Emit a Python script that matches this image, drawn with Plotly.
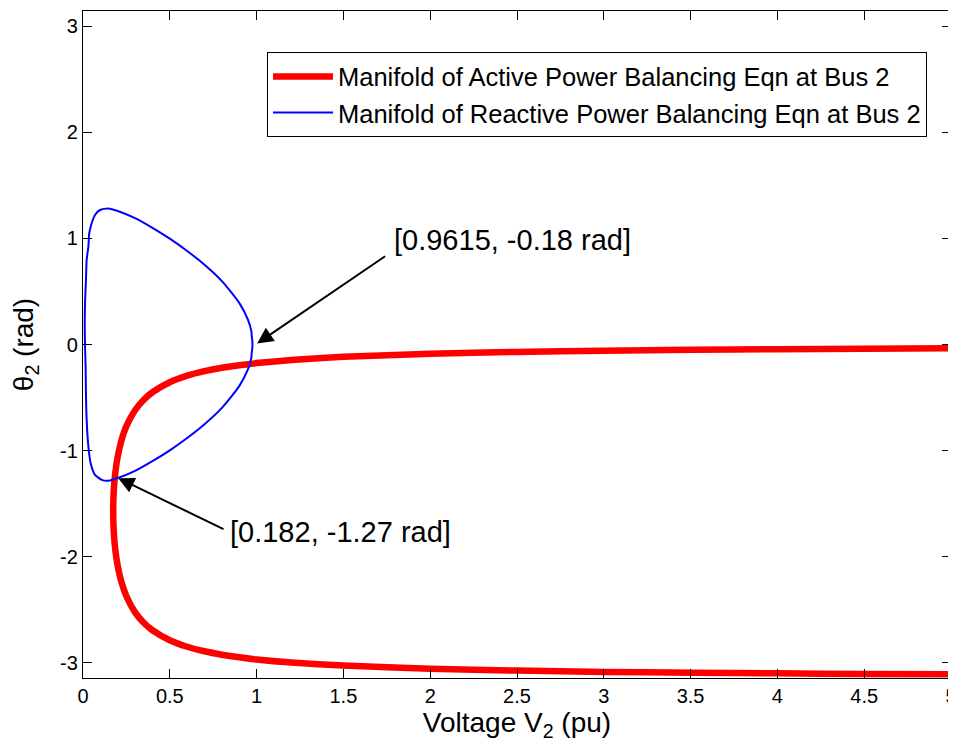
import plotly.graph_objects as go

# Active power balancing manifold (lower branch from V=5 to nose, then upper branch back to V=5)
red_v = [5, 4.5, 4, 3.5, 3, 2.5, 2, 1.5, 1.2, 1.0, 0.9, 0.8, 0.7, 0.6, 0.5, 0.4, 0.35, 0.3,
         0.25, 0.22, 0.2, 0.19, 0.182, 0.178, 0.175, 0.174, 0.175, 0.178, 0.182, 0.19, 0.2,
         0.22, 0.25, 0.3, 0.35, 0.4, 0.5, 0.6, 0.7, 0.8, 0.9, 1.0, 1.2, 1.5, 2, 2.5, 3, 3.5,
         4, 4.5, 5]
red_theta = [-3.107, -3.103, -3.098, -3.092, -3.084, -3.072, -3.054, -3.025, -2.996, -2.967,
             -2.947, -2.922, -2.890, -2.847, -2.786, -2.692, -2.621, -2.523, -2.372, -2.230,
             -2.086, -1.985, -1.870, -1.783, -1.678, -1.571, -1.464, -1.359, -1.272, -1.157,
             -1.055, -0.912, -0.769, -0.619, -0.520, -0.450, -0.356, -0.294, -0.251, -0.219,
             -0.195, -0.175, -0.146, -0.116, -0.087, -0.070, -0.058, -0.050, -0.044, -0.039,
             -0.035]

# Reactive power balancing manifold (closed loop)
blue_v = [0.976, 0.975, 0.972, 0.97, 0.95, 0.9, 0.8, 0.7, 0.6, 0.5, 0.4, 0.3, 0.2, 0.146,
          0.098, 0.069, 0.050, 0.036, 0.031, 0.021, 0.017, 0.013, 0.010, 0.0115, 0.015,
          0.017, 0.021, 0.031, 0.044, 0.069, 0.108, 0.146, 0.2, 0.3, 0.4, 0.5, 0.6, 0.7,
          0.8, 0.9, 0.95, 0.97, 0.972, 0.975, 0.976]
blue_theta = [0.0, 0.042, 0.076, 0.124, 0.234, 0.392, 0.597, 0.751, 0.881, 0.997, 1.099,
              1.190, 1.258, 1.281, 1.267, 1.220, 1.142, 1.048, 0.922, 0.797, 0.608, 0.451,
              0.232, 0.003, -0.208, -0.459, -0.710, -0.961, -1.118, -1.228, -1.275, -1.283,
              -1.258, -1.190, -1.099, -0.997, -0.881, -0.751, -0.597, -0.392, -0.234,
              -0.124, -0.076, -0.042, 0.0]

x_tickvals = [0, 0.5, 1, 1.5, 2, 2.5, 3, 3.5, 4, 4.5, 5]
x_ticktext = ["0", "0.5", "1", "1.5", "2", "2.5", "3", "3.5", "4", "4.5", "5"]
y_tickvals = [-3, -2, -1, 0, 1, 2, 3]
y_ticktext = ["-3", "-2", "-1", "0", "1", "2", "3"]

FONT = "Liberation Sans, Arial, Helvetica, sans-serif"

fig = go.Figure()
fig.add_trace(go.Scatter(
    x=red_v, y=red_theta, mode="lines",
    line=dict(color="#ff0000", width=6.5, shape="spline", smoothing=0.6),
    name="Manifold of Active Power Balancing Eqn at Bus 2"))
fig.add_trace(go.Scatter(
    x=blue_v, y=blue_theta, mode="lines",
    line=dict(color="#0000ff", width=2, shape="spline", smoothing=0.6),
    name="Manifold of Reactive Power Balancing Eqn at Bus 2"))

# arrows (tail -> tip) and labels
fig.add_annotation(x=1.003, y=0.01, ax=1.749, ay=0.841, xref="x", yref="y",
                   axref="x", ayref="y", text="", showarrow=True,
                   arrowhead=2, arrowsize=1.6, arrowwidth=2, arrowcolor="black")
fig.add_annotation(x=1.78, y=0.985, xref="x", yref="y", text="[0.9615, -0.18 rad]",
                   showarrow=False, xanchor="left", yanchor="middle",
                   font=dict(family=FONT, size=29, color="black"))
fig.add_annotation(x=0.203, y=-1.259, ax=0.818, ay=-1.746, xref="x", yref="y",
                   axref="x", ayref="y", text="", showarrow=True,
                   arrowhead=2, arrowsize=1.6, arrowwidth=2, arrowcolor="black")
fig.add_annotation(x=0.835, y=-1.765, xref="x", yref="y", text="[0.182, -1.27 rad]",
                   showarrow=False, xanchor="left", yanchor="middle",
                   font=dict(family=FONT, size=29, color="black"))

axis_common = dict(showline=True, linecolor="black", linewidth=1.3, mirror="allticks",
                   ticks="inside", ticklen=9, tickwidth=1, tickcolor="black",
                   showgrid=False, zeroline=False, automargin=False,
                   ticklabeloverflow="allow",
                   tickfont=dict(family=FONT, size=20, color="black"))

fig.update_layout(
    width=948, height=740,
    margin=dict(l=75, r=5, t=3, b=70),
    paper_bgcolor="white", plot_bgcolor="white",
    font=dict(family=FONT, color="black"),
    showlegend=True,
    legend=dict(x=0.212, y=0.938, xanchor="left", yanchor="top",
                bordercolor="black", borderwidth=1, bgcolor="white",
                font=dict(family=FONT, size=25.5, color="black"),
                itemwidth=60, tracegroupgap=0),
    xaxis=dict(range=[0, 5], tickvals=x_tickvals, ticktext=x_ticktext,
               title=dict(text="Voltage V<sub>2</sub> (pu)", standoff=3,
                          font=dict(family=FONT, size=28, color="black")),
               **axis_common),
    yaxis=dict(range=[-3.1416, 3.1416], tickvals=y_tickvals, ticktext=y_ticktext,
               title=dict(text="θ<sub>2</sub> (rad)", standoff=27,
                          font=dict(family=FONT, size=28, color="black")),
               **axis_common),
)

fig.write_html("out.html")
